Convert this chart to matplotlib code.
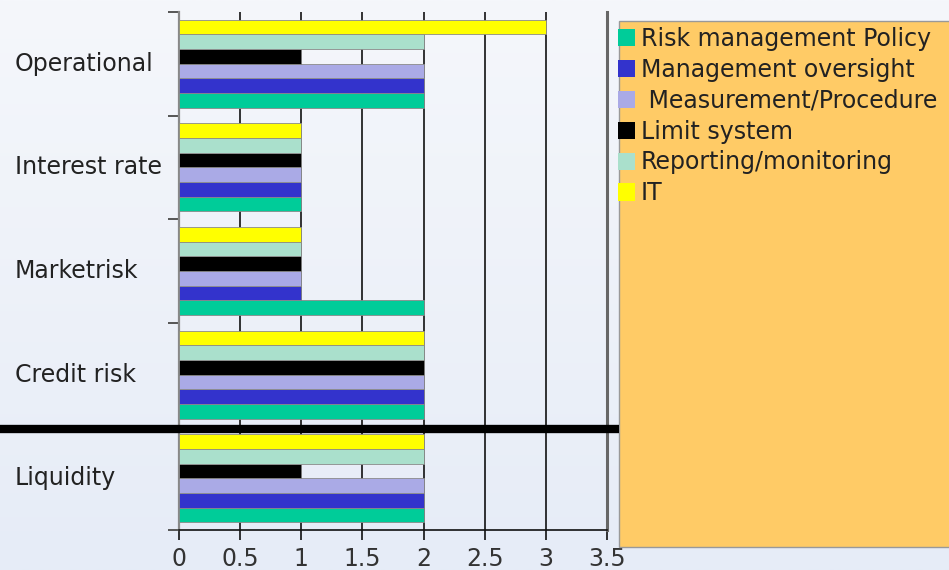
import numpy as np
import matplotlib.pyplot as plt
from matplotlib.patches import Rectangle
from matplotlib.lines import Line2D
from matplotlib.transforms import blended_transform_factory

categories = ["Liquidity", "Credit risk", "Marketrisk", "Interest rate", "Operational"]
series = ["Risk management Policy", "Management oversight", " Measurement/Procedure",
          "Limit system", "Reporting/monitoring", "IT"]
policy = [2, 2, 2, 1, 2]
oversight = [2, 2, 1, 1, 2]
measurement = [2, 2, 1, 1, 2]
limit = [1, 2, 1, 1, 1]
reporting = [2, 2, 1, 1, 2]
it = [2, 2, 1, 1, 3]
values = [policy, oversight, measurement, limit, reporting, it]
colors = ["#00CC99", "#3333CC", "#AAAAE6", "#000000", "#AAE0CC", "#FFFF00"]
xticks = [0, 0.5, 1, 1.5, 2, 2.5, 3, 3.5]
xlabels = ["0", "0.5", "1", "1.5", "2", "2.5", "3", "3.5"]

W, H = 949, 570
fig = plt.figure(figsize=(W / 100, H / 100), dpi=100)
fig.patch.set_facecolor("#EDF1F8")

# background gradient
bg = fig.add_axes([0, 0, 1, 1], zorder=-10)
top = np.array([0xF5, 0xF7, 0xFB]) / 255
bot = np.array([0xE6, 0xEC, 0xF7]) / 255
t = np.linspace(0, 1, 256)[:, None]
grad = top * (1 - t) + bot * t
bg.imshow(grad[:, None, :], aspect="auto", extent=[0, 1, 0, 1])
bg.axis("off")

ax = fig.add_axes([179 / W, 1 - 530 / H, (607 - 179) / W, (530 - 12) / H])
ax.set_facecolor("none")

h = 0.1417
y = np.arange(len(categories))
for i, (vals, c) in enumerate(zip(values, colors)):
    ax.barh(y + (i - 2.5) * h, vals, height=h, color=c, edgecolor="#8a8a8a",
            linewidth=0.6, zorder=3)

ax.set_xlim(0, 3.5)
ax.set_ylim(-0.5, len(categories) - 0.5)

for xv in xticks[1:-1]:
    ax.axvline(xv, color="#111111", lw=1.2, zorder=1)

ax.spines["top"].set_visible(False)
ax.spines["left"].set_color("#888888")
ax.spines["left"].set_linewidth(1.6)
ax.spines["right"].set_color("#666666")
ax.spines["right"].set_linewidth(2.2)
ax.spines["bottom"].set_color("#111111")
ax.spines["bottom"].set_linewidth(1.2)

ax.set_xticks(xticks)
ax.set_xticklabels(xlabels, fontsize=17, color="#333333")
ax.tick_params(axis="x", length=7, width=1.2, color="#111111", pad=5)

ax.set_yticks(np.arange(-0.5, len(categories), 1.0))
ax.set_yticklabels([])
ax.tick_params(axis="y", length=8, width=1.4, color="#555555")

tr = blended_transform_factory(fig.transFigure, ax.transData)
for yy, name in zip(y, categories):
    ax.text(15 / W, yy, name, transform=tr, ha="left", va="center",
            fontsize=17, color="#222222")

# legend box
fig.patches.append(Rectangle((619 / W, 1 - 547 / H), (W - 619) / W + 0.01, (547 - 21) / H,
                             transform=fig.transFigure, facecolor="#FFCB66",
                             edgecolor="#999999", linewidth=1, zorder=1))
handles = [Rectangle((0, 0), 1, 1, facecolor=c, edgecolor="none") for c in colors]
fig.legend(handles, series, loc="upper left", bbox_to_anchor=(618 / W, 1 - 27 / H),
           frameon=False, fontsize=17, handlelength=0.72, handleheight=0.75,
           handletextpad=0.25, labelspacing=0.29, borderpad=0.0, borderaxespad=0.0,
           labelcolor="#222222")

# thick separator line
fig.lines.append(Line2D([0, 619 / W], [1 - 429 / H, 1 - 429 / H], transform=fig.transFigure,
                        color="black", linewidth=6, solid_capstyle="butt", zorder=5))

fig.savefig("out.png", dpi=100, facecolor=fig.get_facecolor())
